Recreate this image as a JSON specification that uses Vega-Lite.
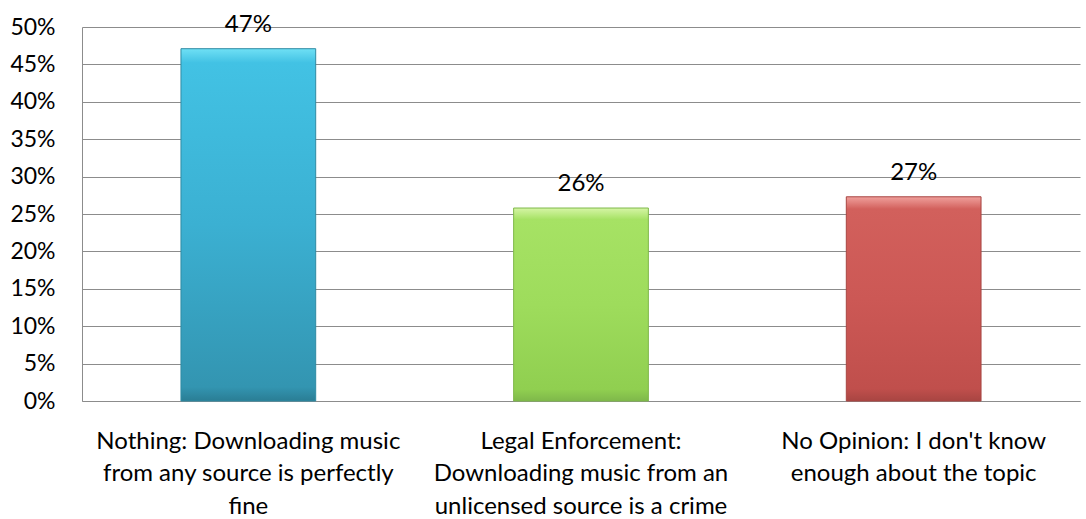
{
  "$schema": "https://vega.github.io/schema/vega-lite/v6.json",
  "width": 998,
  "height": 374,
  "autosize": {"type": "none"},
  "padding": {"left": 82, "top": 27, "right": 6, "bottom": 118},
  "background": "white",
  "config": {"view": {"stroke": null}, "font": "Lato"},
  "data": {"values": [
    {"cat": "Nothing: Downloading music|from any source is perfectly|fine", "value": 0.471, "label": "47%", "k": "a"},
    {"cat": "Legal Enforcement:|Downloading music from an|unlicensed source is a crime", "value": 0.258, "label": "26%", "k": "b"},
    {"cat": "No Opinion: I don't know|enough about the topic", "value": 0.273, "label": "27%", "k": "c"}
  ]},
  "encoding": {
    "x": {"field": "cat", "type": "nominal", "sort": null,
      "scale": {"paddingInner": 0.595, "paddingOuter": 0.2975},
      "axis": {"title": null, "labelAngle": 0, "ticks": false, "domain": true, "domainColor": "#8c8c8c",
        "labelExpr": "split(datum.label, '|')", "labelFontSize": 24, "labelLineHeight": 32.5,
        "labelPadding": 28, "labelColor": "#000", "labelLimit": 400, "labelBaseline": "top"}},
    "y": {"field": "value", "type": "quantitative",
      "scale": {"domain": [0, 0.5]},
      "axis": {"title": null, "format": ".0%", "values": [0,0.05,0.1,0.15,0.2,0.25,0.3,0.35,0.4,0.45,0.5],
        "ticks": false, "domainColor": "#8c8c8c", "gridColor": "#8c8c8c", "labelFontSize": 23,
        "labelPadding": 27, "labelColor": "#000"}}
  },
  "layer": [
    {"transform": [{"filter": "datum.k == 'a'"}],
     "mark": {"type": "bar", "stroke": "#2f8aa3", "strokeWidth": 1,
       "color": {"gradient": "linear", "x1": 0, "y1": 0, "x2": 0, "y2": 1,
         "stops": [{"offset": 0, "color": "#6fe0f5"}, {"offset": 0.04, "color": "#42c2e4"}, {"offset": 0.5, "color": "#3bb0d2"}, {"offset": 0.96, "color": "#3395b1"}, {"offset": 1, "color": "#2a7d94"}]}}},
    {"transform": [{"filter": "datum.k == 'b'"}],
     "mark": {"type": "bar", "stroke": "#7fb84a", "strokeWidth": 1,
       "color": {"gradient": "linear", "x1": 0, "y1": 0, "x2": 0, "y2": 1,
         "stops": [{"offset": 0, "color": "#d6f5a6"}, {"offset": 0.06, "color": "#a6e264"}, {"offset": 0.5, "color": "#9edc5c"}, {"offset": 0.94, "color": "#90cf50"}, {"offset": 1, "color": "#7fb84a"}]}}},
    {"transform": [{"filter": "datum.k == 'c'"}],
     "mark": {"type": "bar", "stroke": "#a84542", "strokeWidth": 1,
       "color": {"gradient": "linear", "x1": 0, "y1": 0, "x2": 0, "y2": 1,
         "stops": [{"offset": 0, "color": "#f0a09c"}, {"offset": 0.06, "color": "#d2605c"}, {"offset": 0.5, "color": "#cc5855"}, {"offset": 0.94, "color": "#c04f4c"}, {"offset": 1, "color": "#a84542"}]}}},
    {"mark": {"type": "text", "dy": -24, "fontSize": 24, "color": "#000"},
     "encoding": {"text": {"field": "label"}}}
  ]
}
